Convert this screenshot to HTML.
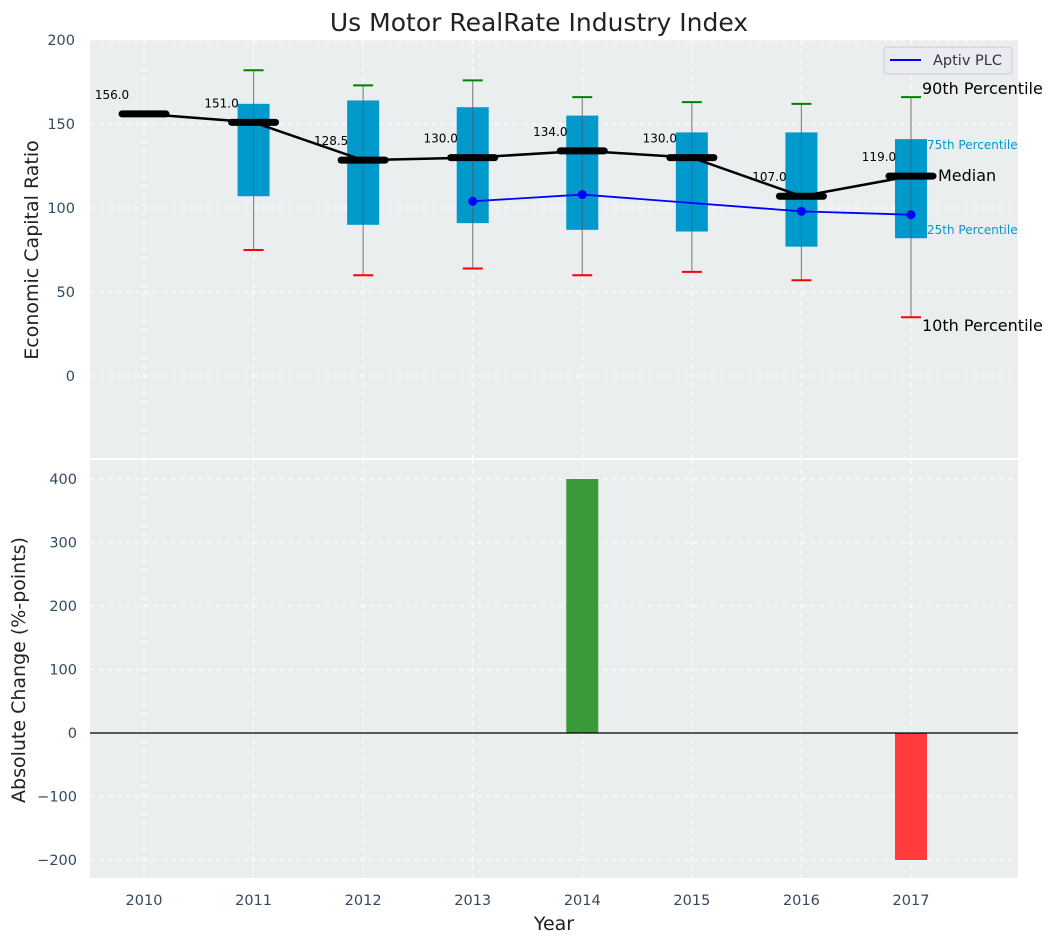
<!DOCTYPE html>
<html><head><meta charset="utf-8"><style>
body{margin:0;background:#fff;font-family:"Liberation Sans","DejaVu Sans",sans-serif}
svg text{font-family:"DejaVu Sans","Liberation Sans",sans-serif}
</style></head><body>
<svg id="c" width="1057" height="942" xmlns="http://www.w3.org/2000/svg"></svg>
<script>
const years=[2010,2011,2012,2013,2014,2015,2016,2017];
const medians=[156,151,128.5,130,134,130,107,119];
const q1=[null,107,90,91,87,86,77,82];
const q3=[null,162,164,160,155,145,145,141];
const p10=[null,75,60,64,60,62,57,35];
const p90=[null,182,173,176,166,163,162,166];
const aptiv=[null,null,null,104,108,null,98,96];
const changes=[0,0,0,0,400,0,0,-200];
const topTicks=[0,50,100,150,200];
const botTicks=[-200,-100,0,100,200,300,400];

const svg=document.getElementById('c');
const NS='http://www.w3.org/2000/svg';
function el(t,a,p){const e=document.createElementNS(NS,t);for(const k in a)e.setAttribute(k,a[k]);(p||svg).appendChild(e);return e;}
const X0=90,X1=1018;
const x=v=>144+(v-2010)*109.57;
const yT=v=>376-v*1.68;
const yB=v=>733-v*0.635;
const TC='#34495e';

let r=el('rect',{x:X0,y:40,width:X1-X0,height:418,fill:'#eaeeef'});

r=el('rect',{x:X0,y:460,width:X1-X0,height:418,fill:'#eaeeef'});


years.forEach(yr=>{
 el('line',{x1:x(yr),x2:x(yr),y1:40,y2:458,stroke:'#fff','stroke-dasharray':'5,4','stroke-width':1});
 el('line',{x1:x(yr),x2:x(yr),y1:460,y2:878,stroke:'#fff','stroke-dasharray':'5,4','stroke-width':1});
 const t=el('text',{x:x(yr),y:905,'text-anchor':'middle','font-size':14.5,fill:TC});t.textContent=yr;
 
});
topTicks.forEach(v=>{
 el('line',{x1:X0,x2:X1,y1:yT(v),y2:yT(v),stroke:'#fff','stroke-dasharray':'5,4'});
 const t=el('text',{x:75,y:yT(v)+5,'text-anchor':'end','font-size':14.5,fill:TC});t.textContent=v;
 
});
botTicks.forEach(v=>{
 el('line',{x1:X0,x2:X1,y1:yB(v),y2:yB(v),stroke:'#fff','stroke-dasharray':'5,4'});
 const t=el('text',{x:77,y:yB(v)+5,'text-anchor':'end','font-size':14.5,fill:TC});t.textContent=(v<0?'\u2212'+(-v):v);
 
});

years.forEach((yr,i)=>{
 if(q1[i]==null)return;
 const cx=x(yr);
 let w=el('line',{x1:cx,x2:cx,y1:yT(p90[i]),y2:yT(p10[i]),stroke:'#888','stroke-width':1.2});
 
 let b=el('rect',{x:cx-16,y:yT(q3[i]),width:32,height:yT(q1[i])-yT(q3[i]),fill:'#0099cc'});
 
 el('line',{x1:cx,x2:cx,y1:yT(q3[i]),y2:yT(q1[i]),stroke:'#555','stroke-width':1,opacity:0.6});
 let c=el('line',{x1:cx-10,x2:cx+10,y1:yT(p90[i]),y2:yT(p90[i]),stroke:'green','stroke-width':2});
 
 c=el('line',{x1:cx-10,x2:cx+10,y1:yT(p10[i]),y2:yT(p10[i]),stroke:'red','stroke-width':2});
 
});
let pl=el('polyline',{points:years.map((yr,i)=>x(yr)+','+yT(medians[i])).join(' '),fill:'none',stroke:'#000','stroke-width':2.5});

years.forEach((yr,i)=>{
 const m=el('line',{x1:x(yr)-22,x2:x(yr)+22,y1:yT(medians[i]),y2:yT(medians[i]),stroke:'#000','stroke-width':7,'stroke-linecap':'round'});
 
 const t=el('text',{x:x(yr)-32,y:yT(medians[i])-15,'text-anchor':'middle','font-size':12,fill:'#000'});
 t.textContent=medians[i].toFixed(1);
 
});
const pts=years.map((yr,i)=>aptiv[i]==null?null:[x(yr),yT(aptiv[i])]).filter(p=>p);
pl=el('polyline',{points:pts.map(p=>p.join(',')).join(' '),fill:'none',stroke:'#0000ff','stroke-width':1.8});

years.forEach((yr,i)=>{
 if(aptiv[i]==null)return;
 const d=el('circle',{cx:x(yr),cy:yT(aptiv[i]),r:4.5,fill:'#0000ff'});
 
});

[['90th Percentile',922,94,16,'#000'],['75th Percentile',927,149,12,'#0099cc'],['Median',938,181,16,'#000'],['25th Percentile',927,234,12,'#0099cc'],['10th Percentile',922,331,16,'#000']].forEach(a=>{
 const t=el('text',{x:a[1],y:a[2],'font-size':a[3],fill:a[4]});t.textContent=a[0];
 
});

const lg=el('g',{});
el('rect',{x:884,y:47,width:128,height:27,rx:3,fill:'#eaeaf2',stroke:'#ccc'},lg);
el('line',{x1:890,x2:921,y1:60,y2:60,stroke:'#0000ff','stroke-width':2},lg);
let lt=el('text',{x:933,y:65,'font-size':14.5,fill:'#333'},lg);lt.textContent='Aptiv PLC';

years.forEach((yr,i)=>{
 if(!changes[i])return;
 const v=changes[i];
 const b=el('rect',{x:x(yr)-16,y:Math.min(yB(v),yB(0)),width:32,height:Math.abs(yB(v)-yB(0)),fill:v>0?'#3a9a3a':'#ff3b3b'});
 
});
let zl=el('line',{x1:X0,x2:X1,y1:yB(0),y2:yB(0),stroke:'#000','stroke-width':1.2});


let t=el('text',{x:539,y:31,'text-anchor':'middle','font-size':25,fill:'#222'});t.textContent='Us Motor RealRate Industry Index';

t=el('text',{x:0,y:0,'text-anchor':'middle','font-size':19,fill:'#222',transform:'translate(38,250) rotate(-90)'});t.textContent='Economic Capital Ratio';

t=el('text',{x:0,y:0,'text-anchor':'middle','font-size':19,fill:'#222',transform:'translate(25,670) rotate(-90)'});t.textContent='Absolute Change (%-points)';

t=el('text',{x:554,y:930,'text-anchor':'middle','font-size':19,fill:'#222'});t.textContent='Year';

</script>
</body></html>
